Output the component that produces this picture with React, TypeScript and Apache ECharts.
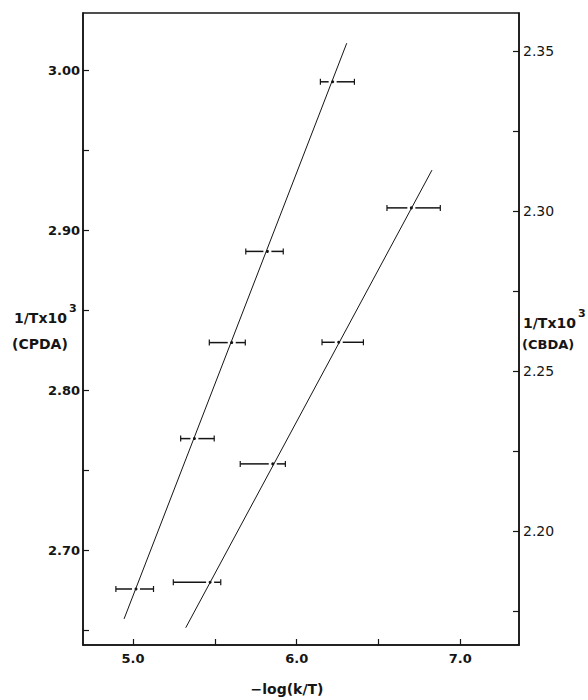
import React, { useEffect, useRef } from "react";
import * as echarts from "echarts";

// Axis ticks and labels
const xTickValues = [5.0, 5.5, 6.0, 6.5, 7.0];
const xLabelValues = [5.0, 6.0, 7.0];
const leftTickValues = [2.65, 2.7, 2.75, 2.8, 2.85, 2.9, 2.95, 3.0];
const leftLabelValues = [2.7, 2.8, 2.9, 3.0];
const rightTickValues = [2.175, 2.2, 2.225, 2.25, 2.275, 2.3, 2.325, 2.35];
const rightLabelValues = [2.2, 2.25, 2.3, 2.35];

// CPDA (left axis) points with horizontal error bars
const cpdaX = [5.018, 5.375, 5.603, 5.821, 6.22];
const cpdaY = [2.676, 2.77, 2.83, 2.887, 2.993];
const cpdaXLow = [4.895, 5.291, 5.466, 5.689, 6.145];
const cpdaXHigh = [5.125, 5.496, 5.686, 5.918, 6.353];
const cpdaFitX = [4.945, 6.306];
const cpdaFitY = [2.6573, 3.0171];

// CBDA (right axis) points with horizontal error bars
const cbdaX = [5.471, 5.854, 6.257, 6.701];
const cbdaY = [2.184, 2.221, 2.259, 2.301];
const cbdaXLow = [5.246, 5.655, 6.155, 6.552];
const cbdaXHigh = [5.536, 5.931, 6.408, 6.878];
const cbdaFitX = [5.322, 6.827];
const cbdaFitY = [2.1698, 2.3128];

const INK = "#151515";

function errorBarItem(params: any, api: any) {
  const x = api.value(0);
  const y = api.value(1);
  const lo = api.value(2);
  const hi = api.value(3);
  const c = api.coord([x, y]);
  const l = api.coord([lo, y]);
  const h = api.coord([hi, y]);
  const gap = 4;
  const st = { stroke: INK, lineWidth: 1.5 };
  return {
    type: "group",
    children: [
      { type: "line", shape: { x1: l[0], y1: c[1], x2: c[0] - gap, y2: c[1] }, style: st },
      { type: "line", shape: { x1: c[0] + gap, y1: c[1], x2: h[0], y2: c[1] }, style: st },
      { type: "line", shape: { x1: l[0], y1: c[1] - 3, x2: l[0], y2: c[1] + 3 }, style: { stroke: INK, lineWidth: 1.2 } },
      { type: "line", shape: { x1: h[0], y1: c[1] - 3, x2: h[0], y2: c[1] + 3 }, style: { stroke: INK, lineWidth: 1.2 } },
      { type: "circle", shape: { cx: c[0], cy: c[1], r: 1.5 }, style: { fill: INK } },
    ],
  };
}

export default function App() {
  const ref = useRef<HTMLDivElement>(null);

  useEffect(() => {
    if (!ref.current) return;
    const chart = echarts.init(ref.current, undefined, { renderer: "svg" });

    const cpdaData = cpdaX.map((v, i) => [v, cpdaY[i], cpdaXLow[i], cpdaXHigh[i]]);
    const cbdaData = cbdaX.map((v, i) => [v, cbdaY[i], cbdaXLow[i], cbdaXHigh[i]]);

    const axisLine = { show: true, lineStyle: { color: INK, width: 1.5 } };

    chart.setOption({
      animation: false,
      backgroundColor: "#ffffff",
      grid: {
        left: 83,
        right: 69,
        top: 13,
        bottom: 55,
        show: true,
        borderColor: INK,
        borderWidth: 1.5,
        backgroundColor: "transparent",
      },
      xAxis: {
        type: "value",
        min: 4.694,
        max: 7.359,
        position: "bottom",
        axisLine,
        splitLine: { show: false },
        axisTick: {
          show: true,
          inside: true,
          length: 6,
          customValues: xTickValues,
          lineStyle: { color: INK, width: 1.2 },
        },
        axisLabel: {
          customValues: xLabelValues,
          formatter: (v: number) => v.toFixed(1),
          fontFamily: "DejaVu Sans",
          fontWeight: "bold",
          fontSize: 13,
          color: INK,
          margin: 7,
        },
      },
      yAxis: [
        {
          type: "value",
          position: "left",
          min: 2.641,
          max: 3.036,
          axisLine,
          splitLine: { show: false },
          axisTick: {
            show: true,
            inside: true,
            length: 6,
            customValues: leftTickValues,
            lineStyle: { color: INK, width: 1.2 },
          },
          axisLabel: {
            customValues: leftLabelValues,
            formatter: (v: number) => v.toFixed(2),
            fontFamily: "DejaVu Sans",
            fontWeight: "bold",
            fontSize: 13,
            color: INK,
            margin: 3,
          },
        },
        {
          type: "value",
          position: "right",
          min: 2.1644,
          max: 2.3619,
          axisLine,
          splitLine: { show: false },
          axisTick: {
            show: true,
            inside: true,
            length: 6,
            customValues: rightTickValues,
            lineStyle: { color: INK, width: 1.2 },
          },
          axisLabel: {
            customValues: rightLabelValues,
            formatter: (v: number) => v.toFixed(2),
            fontFamily: "DejaVu Sans",
            fontSize: 14,
            color: INK,
            margin: 4,
          },
        },
      ],
      series: [
        {
          name: "CPDA fit",
          type: "line",
          yAxisIndex: 0,
          data: cpdaFitX.map((v, i) => [v, cpdaFitY[i]]),
          showSymbol: false,
          symbol: "none",
          lineStyle: { color: INK, width: 1 },
          z: 2,
        },
        {
          name: "CBDA fit",
          type: "line",
          yAxisIndex: 1,
          data: cbdaFitX.map((v, i) => [v, cbdaFitY[i]]),
          showSymbol: false,
          symbol: "none",
          lineStyle: { color: INK, width: 1 },
          z: 2,
        },
        {
          name: "CPDA",
          type: "custom",
          yAxisIndex: 0,
          renderItem: errorBarItem,
          encode: { x: 0, y: 1 },
          data: cpdaData,
          z: 3,
        },
        {
          name: "CBDA",
          type: "custom",
          yAxisIndex: 1,
          renderItem: errorBarItem,
          encode: { x: 0, y: 1 },
          data: cbdaData,
          z: 3,
        },
      ],
      graphic: [
        {
          type: "text",
          x: 14,
          y: 318,
          style: { text: "1/Tx10", font: "bold 14px 'DejaVu Sans'", fill: INK, textVerticalAlign: "middle" },
        },
        {
          type: "text",
          x: 69,
          y: 308,
          style: { text: "3", font: "bold 11px 'DejaVu Sans'", fill: INK, textVerticalAlign: "middle" },
        },
        {
          type: "text",
          x: 12,
          y: 344,
          style: { text: "(CPDA)", font: "bold 14px 'DejaVu Sans'", fill: INK, textVerticalAlign: "middle" },
        },
        {
          type: "text",
          x: 523,
          y: 323,
          style: { text: "1/Tx10", font: "bold 14px 'DejaVu Sans'", fill: INK, textVerticalAlign: "middle" },
        },
        {
          type: "text",
          x: 578,
          y: 313,
          style: { text: "3", font: "bold 11px 'DejaVu Sans'", fill: INK, textVerticalAlign: "middle" },
        },
        {
          type: "text",
          x: 522,
          y: 344,
          style: { text: "(CBDA)", font: "bold 13px 'DejaVu Sans'", fill: INK, textVerticalAlign: "middle" },
        },
        {
          type: "text",
          x: 287,
          y: 689,
          style: {
            text: "−log(k/T)",
            font: "bold 14px 'DejaVu Sans'",
            fill: INK,
            textAlign: "center",
            textVerticalAlign: "middle",
          },
        },
      ],
    });

    return () => chart.dispose();
  }, []);

  return (
    <div
      ref={ref}
      style={{ position: "absolute", left: 0, top: 0, width: 588, height: 700, background: "#fff" }}
    />
  );
}
